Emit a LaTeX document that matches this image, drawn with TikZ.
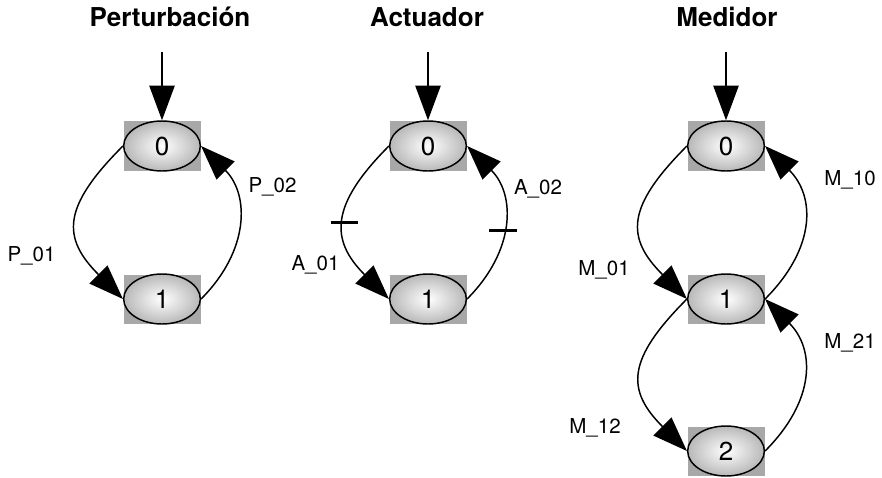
\documentclass[tikz,border=0pt]{standalone}
\usepackage{fontspec}
\setmainfont{TeX Gyre Heros}
\usetikzlibrary{arrows.meta,shapes.geometric}
\definecolor{grisCaja}{HTML}{A8A8A8}
\definecolor{grisBorde}{HTML}{B8B8B8}

\begin{document}
\begin{tikzpicture}[x=0.75pt,y=0.75pt,
  estado/.style={ellipse,draw,line width=1.1pt,minimum width=57.5pt,minimum height=37.5pt,
    inner color=white,outer color=grisBorde,font=\fontsize{19.5}{23}\selectfont},
  arco/.style={line width=1.1pt,-{Triangle[length=26pt,width=19pt]}},
  marca/.style={line width=2.2pt},
  etiq/.style={anchor=base,font=\fontsize{15.4}{18}\selectfont},
  titulo/.style={anchor=base,font=\fontsize{19.5}{23}\selectfont\bfseries}]
\useasboundingbox (0,0) rectangle (882,-478);
\foreach \x/\y in {162/146,162/299,428/146,428/299,726/146,726/299,726/451}
  \fill[grisCaja] (\x-38.5,-\y-24.5) rectangle (\x+38.5,-\y+24.5);
\node[estado] (p0) at (162,-146) {0};
\node[estado] (p1) at (162,-299) {1};
\node[estado] (a0) at (428,-146) {0};
\node[estado] (a1) at (428,-299) {1};
\node[estado] (m0) at (726,-146) {0};
\node[estado] (m1) at (726,-299) {1};
\node[estado] (m2) at (726,-451) {2};
\node[titulo] (tPert) at (170,-27) {Perturbación};
\node[titulo] (tAct) at (427,-27) {Actuador};
\node[titulo] (tMed) at (727,-27) {Medidor};
\coordinate (pIni) at (162,-52);
\coordinate (aIni) at (428,-52);
\coordinate (mIni) at (726,-52);
\draw[arco] (pIni) -- (p0);
\draw[arco] (aIni) -- (a0);
\draw[arco] (mIni) -- (m0);
\draw[arco] (p0.west) to[out=225,in=135,looseness=1.45] (p1.west);
\draw[arco] (p1.east) to[out=45,in=-45,looseness=1.15] (p0.east);
\draw[arco] (a0.west) to[out=225,in=135,looseness=1.4] coordinate[pos=0.5] (tA01) (a1.west);
\draw[arco] (a1.east) to[out=45,in=-45,looseness=1.15] coordinate[pos=0.45] (tA02) (a0.east);
\draw[marca] ([xshift=-10pt]tA01) -- ([xshift=10pt]tA01);
\draw[marca] ([xshift=-10.5pt]tA02) -- ([xshift=10.5pt]tA02);
\draw[arco] (m0.west) to[out=225,in=135,looseness=1.45] (m1.west);
\draw[arco] (m1.east) to[out=45,in=-45,looseness=1.2] (m0.east);
\draw[arco] (m1.west) to[out=225,in=135,looseness=1.45] (m2.west);
\draw[arco] (m2.east) to[out=45,in=-45,looseness=1.2] (m1.east);
\node[etiq] (lP01) at (31.5,-261) {P\_01};
\node[etiq] (lP02) at (272.5,-192) {P\_02};
\node[etiq] (lA01) at (315.5,-270) {A\_01};
\node[etiq] (lA02) at (538,-194) {A\_02};
\node[etiq] (lM01) at (604,-275) {M\_01};
\node[etiq] (lM10) at (850,-185) {M\_10};
\node[etiq] (lM21) at (850,-348) {M\_21};
\node[etiq] (lM12) at (595,-433) {M\_12};
\end{tikzpicture}
\end{document}
